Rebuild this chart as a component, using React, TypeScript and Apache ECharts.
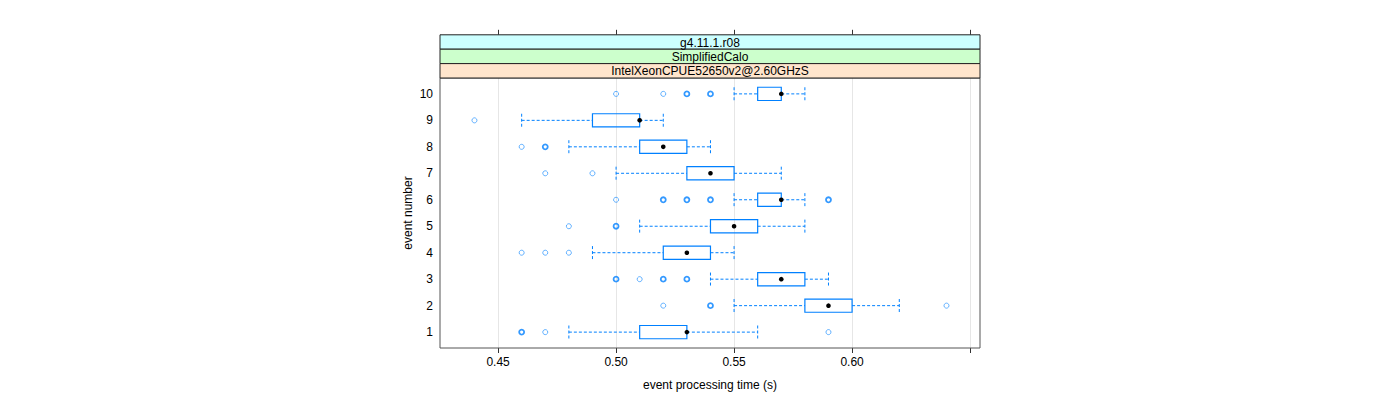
import React, { useEffect, useRef } from "react";
import * as echarts from "echarts";

// ---- data ----
const events = [1, 2, 3, 4, 5, 6, 7, 8, 9, 10];
const lowerWhisker = [0.48, 0.55, 0.54, 0.49, 0.51, 0.55, 0.5, 0.48, 0.46, 0.55];
const lowerQuartile = [0.51, 0.58, 0.56, 0.52, 0.54, 0.56, 0.53, 0.51, 0.49, 0.56];
const medians = [0.53, 0.59, 0.57, 0.53, 0.55, 0.57, 0.54, 0.52, 0.51, 0.57];
const upperQuartile = [0.53, 0.6, 0.58, 0.54, 0.56, 0.57, 0.55, 0.53, 0.51, 0.57];
const upperWhisker = [0.56, 0.62, 0.59, 0.55, 0.58, 0.58, 0.57, 0.54, 0.52, 0.58];
// [event, value, number of coinciding points]
const outliers: [number, number, number][] = [
  [1, 0.46, 2], [1, 0.47, 1], [1, 0.59, 1],
  [2, 0.52, 1], [2, 0.54, 2], [2, 0.64, 1],
  [3, 0.5, 2], [3, 0.51, 1], [3, 0.52, 2], [3, 0.53, 2],
  [4, 0.46, 1], [4, 0.47, 1], [4, 0.48, 1],
  [5, 0.48, 1], [5, 0.5, 2],
  [6, 0.5, 1], [6, 0.52, 2], [6, 0.53, 2], [6, 0.54, 2], [6, 0.59, 2],
  [7, 0.47, 1], [7, 0.49, 1],
  [8, 0.46, 1], [8, 0.47, 2],
  [9, 0.44, 1],
  [10, 0.5, 1], [10, 0.52, 1], [10, 0.53, 2], [10, 0.54, 2],
];
const xTicks = [0.45, 0.5, 0.55, 0.6, 0.65];
const xLabels = [0.45, 0.5, 0.55, 0.6];
const stripLabels = ["g4.11.1.r08", "SimplifiedCalo", "IntelXeonCPUE52650v2@2.60GHzS"];
const stripColors = ["#ccffff", "#ccffcc", "#ffe5cc"];

const FONT = "'Liberation Sans', Arial, Helvetica, sans-serif";
const BLUE = "#0080ff";

const GRID_LEFT = 440;
const GRID_TOP = 78;
const GRID_W = 540;
const GRID_H = 270;
const STRIP_H = 14.4;

export default function App() {
  const ref = useRef<HTMLDivElement>(null);
  useEffect(() => {
    if (!ref.current) return;
    const chart = echarts.init(ref.current, null, { renderer: "svg" });

    const boxData = events.map((e, i) => [
      e,
      lowerWhisker[i],
      lowerQuartile[i],
      medians[i],
      upperQuartile[i],
      upperWhisker[i],
    ]);

    const outlierData = outliers.map(([e, v, n]) => ({
      value: [v, e],
      itemStyle: {
        color: "rgba(0,0,0,0)",
        borderColor: n > 1 ? BLUE : "rgba(0,128,255,0.75)",
        borderWidth: n > 1 ? 1.8 : 1,
      },
    }));

    const strips: any[] = [];
    stripLabels.forEach((lab, i) => {
      const y = GRID_TOP - STRIP_H * (stripLabels.length - i);
      strips.push({
        type: "rect",
        shape: { x: GRID_LEFT, y, width: GRID_W, height: STRIP_H },
        style: { fill: stripColors[i], stroke: "#222", lineWidth: 1 },
        z: 10,
      });
      strips.push({
        type: "text",
        x: GRID_LEFT + GRID_W / 2,
        y: y + STRIP_H / 2 + 0.5,
        style: {
          text: lab,
          fill: "#000",
          fontSize: 12,
          fontFamily: FONT,
          align: "center",
          verticalAlign: "middle",
        },
        z: 11,
      });
    });

    const option: any = {
      animation: false,
      backgroundColor: "#fff",
      textStyle: { fontFamily: FONT },
      grid: {
        left: GRID_LEFT,
        top: GRID_TOP,
        width: GRID_W,
        height: GRID_H,
        show: true,
        borderColor: "#555",
        borderWidth: 1,
        backgroundColor: "transparent",
        z: 5,
      },
      xAxis: [
        {
          type: "value",
          min: 0.4254,
          max: 0.6542,
          position: "bottom",
          axisLine: { show: false },
          splitLine: { show: false },
          axisTick: {
            show: true,
            length: 5,
            customValues: xTicks,
            lineStyle: { color: "#333" },
          },
          axisLabel: {
            show: true,
            customValues: xLabels,
            formatter: (v: number) => v.toFixed(2),
            color: "#000",
            fontSize: 12,
            fontFamily: FONT,
            margin: 8,
          },
          name: "event processing time (s)",
          nameLocation: "middle",
          nameGap: 31,
          nameTextStyle: { color: "#000", fontSize: 12, fontFamily: FONT },
        },
        {
          type: "value",
          min: 0.4254,
          max: 0.6542,
          position: "top",
          offset: STRIP_H * 3,
          axisLine: { show: false },
          splitLine: { show: false },
          axisTick: {
            show: true,
            length: 5,
            customValues: xTicks,
            lineStyle: { color: "#333" },
          },
          axisLabel: { show: false },
        },
      ],
      yAxis: {
        type: "value",
        min: 0.4,
        max: 10.6,
        axisLine: { show: false },
        splitLine: { show: false },
        axisTick: { show: false },
        axisLabel: {
          show: true,
          customValues: events,
          color: "#000",
          fontSize: 12,
          fontFamily: FONT,
          margin: 7,
        },
        name: "event number",
        nameLocation: "middle",
        nameGap: 26,
        nameRotate: 90,
        nameTextStyle: { color: "#000", fontSize: 12, fontFamily: FONT },
      },
      graphic: strips,
      series: [
        {
          type: "scatter",
          data: [],
          z: 1,
          markLine: {
            silent: true,
            z: 1,
            symbol: "none",
            label: { show: false },
            lineStyle: { color: "#e6e6e6", type: "solid", width: 1 },
            data: xTicks.map((v) => ({ xAxis: v })),
          },
        },
        {
          type: "custom",
          z: 3,
          encode: { x: [1, 2, 3, 4, 5], y: 0 },
          data: boxData,
          renderItem: (params: any, api: any) => {
            const e = api.value(0);
            const lo = api.coord([api.value(1), e]);
            const q1 = api.coord([api.value(2), e]);
            const md = api.coord([api.value(3), e]);
            const q3 = api.coord([api.value(4), e]);
            const hi = api.coord([api.value(5), e]);
            const h = api.size([0, 1])[1] * 0.5;
            const cy = md[1];
            const dash = { stroke: BLUE, lineWidth: 1, lineDash: [3, 2], fill: null };
            return {
              type: "group",
              children: [
                { type: "line", shape: { x1: lo[0], y1: cy, x2: q1[0], y2: cy }, style: dash },
                { type: "line", shape: { x1: q3[0], y1: cy, x2: hi[0], y2: cy }, style: dash },
                { type: "line", shape: { x1: lo[0], y1: cy - h / 2, x2: lo[0], y2: cy + h / 2 }, style: dash },
                { type: "line", shape: { x1: hi[0], y1: cy - h / 2, x2: hi[0], y2: cy + h / 2 }, style: dash },
                {
                  type: "rect",
                  shape: { x: q1[0], y: cy - h / 2, width: q3[0] - q1[0], height: h },
                  style: { stroke: BLUE, lineWidth: 1.2, fill: null },
                },
                {
                  type: "circle",
                  shape: { cx: md[0], cy, r: 2.3 },
                  style: { fill: "#000", stroke: null },
                },
              ],
            };
          },
        },
        {
          type: "scatter",
          z: 4,
          symbol: "circle",
          symbolSize: 5,
          data: outlierData,
        },
      ],
    };
    chart.setOption(option);
    return () => chart.dispose();
  }, []);
  return (
    <div
      ref={ref}
      style={{ position: "absolute", left: 0, top: 0, width: 1400, height: 400 }}
    />
  );
}
